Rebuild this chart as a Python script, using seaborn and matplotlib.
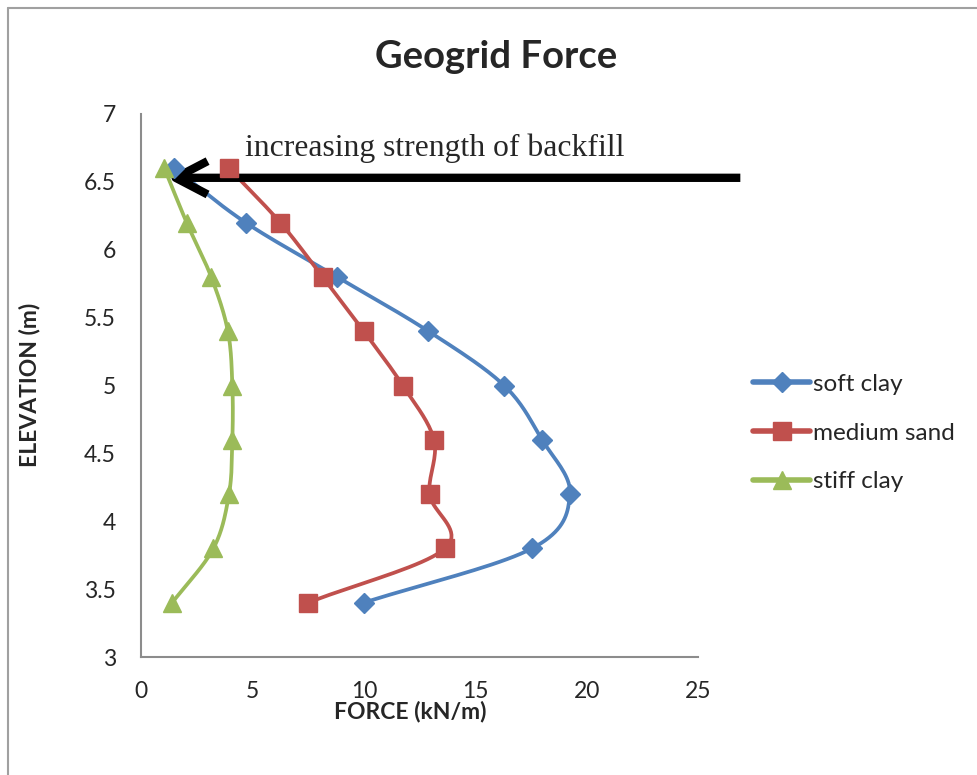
import numpy as np
import pandas as pd
import matplotlib
matplotlib.use("Agg")
import matplotlib.pyplot as plt
import seaborn as sns
from matplotlib.lines import Line2D

# ---- data ----
elevation = [6.6, 6.2, 5.8, 5.4, 5.0, 4.6, 4.2, 3.8, 3.4]
soft_clay = [1.5, 4.7, 8.8, 12.9, 16.3, 18.0, 19.25, 17.55, 10.0]
medium_sand = [3.95, 6.25, 8.15, 10.0, 11.75, 13.15, 12.95, 13.65, 7.5]
stiff_clay = [1.05, 2.05, 3.15, 3.9, 4.1, 4.1, 3.95, 3.25, 1.4]
series_names = ["soft clay", "medium sand", "stiff clay"]
x_ticks = [0, 5, 10, 15, 20, 25]
y_ticks = [3, 3.5, 4, 4.5, 5, 5.5, 6, 6.5, 7]

colors = ["#4F81BD", "#C0504D", "#9BBB59"]
markers = ["D", "s", "^"]
msizes = [10, 12.5, 13.5]

sns.set_style("white")
plt.rcParams["font.family"] = ["Lato", "DejaVu Sans"]

fig = plt.figure(figsize=(9.77, 7.75), dpi=100)
ax = fig.add_axes([141 / 977, 1 - 657 / 775, 557 / 977, 543 / 775])


def smooth(xs, ys, n=20):
    # Catmull-Rom smoothing (display rendering of the line only)
    sx, sy = 557 / 25.0, 543 / 4.0
    P = np.column_stack([np.array(xs) * sx, np.array(ys) * sy])
    P = np.vstack([P[0] - (P[1] - P[0]), P, P[-1] + (P[-1] - P[-2])])
    out = []
    for i in range(1, len(P) - 2):
        p0, p1, p2, p3 = P[i - 1], P[i], P[i + 1], P[i + 2]
        t = np.linspace(0, 1, n, endpoint=False)[:, None]
        c1 = p1 + (p2 - p0) / 6.0
        c2 = p2 - (p3 - p1) / 6.0
        seg = ((1 - t) ** 3) * p1 + 3 * ((1 - t) ** 2) * t * c1 + 3 * (1 - t) * t ** 2 * c2 + t ** 3 * p2
        out.append(seg)
    out.append(P[-2][None, :])
    out = np.vstack(out)
    return out[:, 0] / sx, out[:, 1] / sy


all_series = [soft_clay, medium_sand, stiff_clay]
for name, xs, c, m, ms in zip(series_names, all_series, colors, markers, msizes):
    cx, cy = smooth(xs, elevation)
    df = pd.DataFrame({"x": cx, "y": cy})
    sns.lineplot(data=df, x="x", y="y", sort=False, estimator=None, color=c, lw=2.7, ax=ax)
    ax.plot(xs, elevation, linestyle="none", marker=m, markersize=ms, color=c, zorder=4)

ax.set_xlim(0, 25)
ax.set_ylim(3, 7)
ax.set_xticks(x_ticks)
ax.set_yticks(y_ticks)
ax.set_xticklabels([str(v) for v in x_ticks])
ax.set_yticklabels([("%g" % v) for v in y_ticks])
ax.tick_params(axis="both", length=0, labelsize=16.5)
ax.tick_params(axis="y", pad=18)
ax.tick_params(axis="x", pad=17)
for s in ["top", "right"]:
    ax.spines[s].set_visible(False)
for s in ["left", "bottom"]:
    ax.spines[s].set_color("#8c8c8c")
    ax.spines[s].set_linewidth(1.5)
ax.set_xlabel("")
ax.set_ylabel("")

fig.text(496 / 977, 1 - 57 / 775, "Geogrid Force", ha="center", va="center",
         fontsize=27.5, fontweight="bold")
fig.text(30 / 977, 1 - 385 / 775, "ELEVATION (m)", ha="center", va="center",
         rotation=90, fontsize=16.5, fontweight="bold")
fig.text(410 / 977, 1 - 711 / 775, "FORCE (kN/m)", ha="center", va="center",
         fontsize=16.5, fontweight="bold")

# annotation arrow
ax.annotate("", xy=(1.15, 6.53), xytext=(26.9, 6.53), textcoords="data",
            annotation_clip=False,
            arrowprops=dict(arrowstyle="->, head_length=2.3, head_width=1.2",
                            lw=6, color="black", capstyle="butt", joinstyle="round",
                            shrinkA=0, shrinkB=0))
fig.text(245 / 977, 1 - 148 / 775, "increasing strength of backfill", ha="left", va="center",
         fontsize=22.8, family=["Liberation Serif", "DejaVu Serif"])

# legend
handles = [Line2D([0], [0], color=c, lw=4, marker=m, markersize=ms)
           for c, m, ms in zip(colors, markers, msizes)]
fig.legend(handles, series_names, loc="center left", bbox_to_anchor=(741 / 977, 1 - 433 / 775),
           frameon=False, fontsize=17.5, handlelength=2.35, handletextpad=0.1, labelspacing=1.15,
           borderpad=0)

# outer frame (left and top edges visible)
fig.add_artist(Line2D([7.5 / 977, 7.5 / 977], [0, 1 - 8 / 775], color="#a0a0a0", lw=1.5,
                      transform=fig.transFigure))
fig.add_artist(Line2D([7.5 / 977, 1], [1 - 8 / 775, 1 - 8 / 775], color="#a0a0a0", lw=1.5,
                      transform=fig.transFigure))

fig.savefig("out.png", dpi=100)
